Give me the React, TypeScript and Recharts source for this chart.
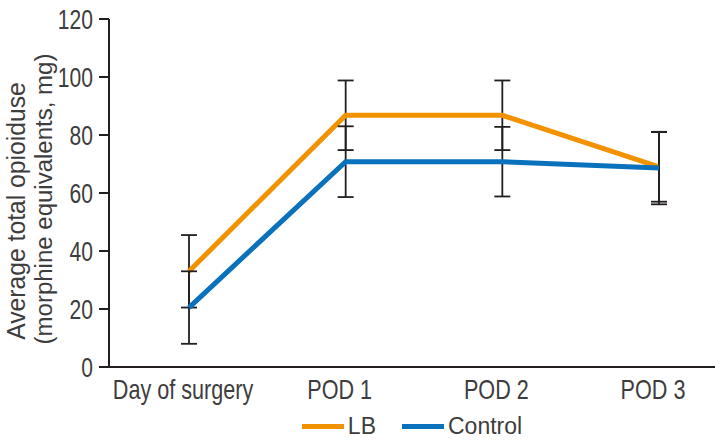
import { LineChart, Line, XAxis, YAxis, ErrorBar, Legend } from 'recharts';

const days = ['Day of surgery', 'POD 1', 'POD 2', 'POD 3'];
const lbMean = [33, 86.8, 86.8, 69];
const lbErr = [12.5, 12, 12, 12];
const controlMean = [20.5, 70.8, 70.8, 68.6];
const controlErr = [12.5, 12.2, 12, 12.5];
const yTicks = [0, 20, 40, 60, 80, 100, 120];

const data = days.map((day, i) => ({
  day,
  lb: lbMean[i],
  lbErr: lbErr[i],
  control: controlMean[i],
  controlErr: controlErr[i],
}));

const FONT = '"Liberation Sans", Arial, sans-serif';
const TEXT = '#3d3d3d';
const AXIS = '#231f20';
const ORANGE = '#F39200';
const BLUE = '#0A71BC';

// the original uses a condensed face, so squeeze Liberation Sans horizontally
function XTick({ x, y, payload }: any) {
  return (
    <text
      transform={`translate(${x - 6},${y + 24}) scale(0.8,1)`}
      textAnchor="middle"
      fontSize={27}
      fontFamily={FONT}
      fill={TEXT}
    >
      {payload.value}
    </text>
  );
}

function YTick({ x, y, payload }: any) {
  return (
    <text
      transform={`translate(${x - 4},${y + 10}) scale(0.78,1)`}
      textAnchor="end"
      fontSize={27}
      fontFamily={FONT}
      fill={TEXT}
    >
      {payload.value}
    </text>
  );
}

function YLabel() {
  return (
    <g fontFamily={FONT} fill={TEXT} textAnchor="middle">
      <text transform="translate(25,211) rotate(-90) scale(0.95,1)" fontSize={26}>
        Average total opioiduse
      </text>
      <text transform="translate(52,199) rotate(-90) scale(0.98,1)" fontSize={24.5}>
        (morphine equivalents, mg)
      </text>
    </g>
  );
}

function LegendContent() {
  const items = [
    { name: 'LB', color: ORANGE },
    { name: 'Control', color: BLUE },
  ];
  return (
    <div
      style={{
        display: 'flex',
        justifyContent: 'center',
        alignItems: 'center',
        height: 38,
        gap: 26,
        fontFamily: FONT,
        fontSize: 23,
        color: TEXT,
      }}
    >
      {items.map((it) => (
        <div key={it.name} style={{ display: 'flex', alignItems: 'center', gap: 4 }}>
          <div style={{ width: 42, height: 5, background: it.color }} />
          <span>{it.name}</span>
        </div>
      ))}
    </div>
  );
}

export default function App() {
  return (
    <div style={{ position: 'absolute', left: 0, top: 0 }}>
      <LineChart
        width={727}
        height={445}
        data={data}
        margin={{ top: 19, right: 12, left: 0, bottom: 0 }}
      >
        <XAxis
          dataKey="day"
          tickLine={false}
          axisLine={{ stroke: AXIS, strokeWidth: 2 }}
          padding={{ left: 80, right: 56 }}
          height={40}
          tick={<XTick />}
        />
        <YAxis
          domain={[0, 120]}
          ticks={yTicks}
          width={109}
          tickSize={10}
          axisLine={{ stroke: AXIS, strokeWidth: 2 }}
          tickLine={{ stroke: AXIS, strokeWidth: 2 }}
          tick={<YTick />}
          label={<YLabel />}
        />
        <Legend
          verticalAlign="bottom"
          content={<LegendContent />}
          wrapperStyle={{ left: 109, width: 606 }}
        />
        <Line
          type="linear"
          dataKey="lb"
          name="LB"
          stroke={ORANGE}
          strokeWidth={5}
          dot={false}
          isAnimationActive={false}
        >
          <ErrorBar dataKey="lbErr" width={8} stroke={AXIS} strokeWidth={1.8} direction="y" />
        </Line>
        <Line
          type="linear"
          dataKey="control"
          name="Control"
          stroke={BLUE}
          strokeWidth={5}
          dot={false}
          isAnimationActive={false}
        >
          <ErrorBar dataKey="controlErr" width={8} stroke={AXIS} strokeWidth={1.8} direction="y" />
        </Line>
      </LineChart>
    </div>
  );
}
